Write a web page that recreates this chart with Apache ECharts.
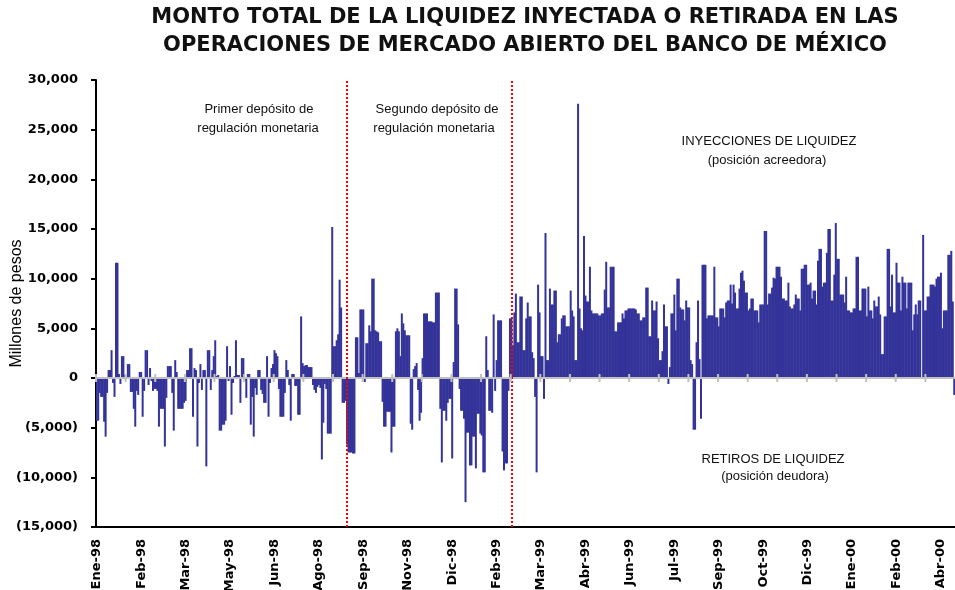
<!DOCTYPE html>
<html>
<head>
<meta charset="utf-8">
<script src="https://cdn.jsdelivr.net/npm/echarts@6/dist/echarts.min.js"></script>
<style>
  html, body { margin: 0; padding: 0; background: #fff; }
  #grafica { width: 955px; height: 590px; }
</style>
</head>
<body>
<div id="grafica"></div>
<script>
// etiquetas del eje horizontal (una cada 30 dias habiles)
var meses = ['Ene-98', 'Feb-98', 'Mar-98', 'May-98', 'Jun-98', 'Ago-98', 'Sep-98', 'Nov-98', 'Dic-98', 'Feb-99',
             'Mar-99', 'Abr-99', 'Jun-99', 'Jul-99', 'Sep-99', 'Oct-99', 'Dic-99', 'Ene-00', 'Feb-00', 'Abr-00'];
var pasoEtiqueta = 30;
var pasoMarca = 20;

// millones de pesos, un valor por dia habil
var primerDeposito = [
  -4300,-4300,-1500,-1900,-1900,-4400,-5900,-1500,800,800,2800,-500,-1900,11600,11600,400,-600,2200,2200,300,
  100,1400,1400,-1400,-1400,-3100,-4900,-1300,-1700,600,600,-3900,-1300,2800,2800,-700,1000,-300,-1300,-1100,
  -1100,-1300,-4900,-3100,-3100,-3100,-6900,-2000,1200,1200,1200,-1500,-5300,1800,600,-3100,-3100,-3100,-3100,-2500,
  -2300,800,800,3000,3000,-3900,1000,800,-6900,-500,1400,-1200,800,800,-8900,2800,2800,-1200,800,2200,
  3800,200,300,-5300,-5300,-4700,-4700,-4300,3200,-300,1200,-3700,-500,200,3800,300,300,-2500,2000,2000,
  -300,-2000,400,400,-4700,-1900,-5900,-1000,-1700,800,800,-1200,-1600,-2500,-2500,2200,-3900,-500,1000,1400,
  2800,2500,2200,-1100,-3900,-3900,-3900,-1500,1800,800,-700,-4300,400,400,-800,-800,-3700,-3700,6200,1500,
  1200,1300,1300,1100,1100,1100,-700,-1200,-1500,-900,-700,-1000,-8200,-4500,-600,-1100,-5600,-5600,-5600,15200,
  3200,3200,3800,4400,9900,7100,-2500,-2500,-2300,-6700
];
var segundoDeposito = [
  -7500,-7500,-7500,-7600,-7600,4100,4100,500,6900,6900,
  6900,-400,3500,3500,5300,4700,10000,10000,4800,4700,4600,3700,3700,-2400,-4900,-4900,-3400,-3400,-3400,-7500,
  -4900,-4900,4700,5000,4700,2200,6500,5500,4800,4300,4300,4300,-4600,-5200,900,1200,1500,-1200,-4300,-3500,
  2000,6500,6500,6500,5700,5700,5700,5600,5600,8600,8600,8600,-3100,-8500,-3300,-3300,-4300,-2500,-2100,-2100,
  -8100,1600,9000,9000,5400,-1100,-3300,-3300,-4100,-12500,-5500,-5500,-8800,-8800,-5900,-5900,-9100,-3600,-3600,-5600,
  -5800,-9500,-9500,4200,800,-3300,-3300,-3500,6400,-1300,1800,5800,5800,5800,-7400,-9300,-8600,-8600,-1300,6000,
  6000
];
var despues = [
  3300,6600,8500,3600,3600,8200,8200,2800,2800,6000,7600,6200,6200,2600,2000,-1900,-9500,9400,6600,
  2200,2200,-2100,14600,1800,1800,9000,7400,7400,8800,8800,3600,4400,4400,6000,6300,6300,5200,5200,5200,
  8800,6800,6200,1800,1800,27600,7000,5000,4800,14300,8300,7700,7700,11200,6800,6500,6500,6500,6500,6300,
  6300,6500,6500,8900,11700,7100,7100,11200,11200,11200,4700,4700,5600,5600,5600,6500,6000,6800,6800,7000,
  7000,7000,7000,7000,6900,6500,6500,5800,5800,6100,6100,9100,9100,4200,4200,7800,6800,6800,7700,4000,
  1800,1800,2700,7400,5200,5200,-600,1100,6500,6500,8400,4800,10000,10000,7100,6900,6900,5800,7800,7100,
  7100,1800,1400,-5200,-5200,3600,7800,1900,-4100,11400,11400,11400,6000,6300,6300,6300,6300,11200,6100,6100,
  5200,7000,7000,7000,6100,7600,7800,7800,9400,7500,9400,8600,7000,7000,9000,10600,10800,9800,8600,8600,
  6800,7000,8000,8000,6800,6800,6800,5600,7400,7400,7400,14800,14800,7400,8500,8500,9100,10100,10000,11200,
  11200,11200,10200,8000,8000,7800,7800,9600,7200,7000,7000,7400,8400,8000,8000,6800,11000,11000,11400,11400,
  9400,9400,9600,8000,8800,8800,7400,11800,13000,13000,9200,9600,9600,12600,15000,15000,7800,7800,10400,15600,
  12000,12000,8400,8400,8400,7600,10200,6800,6800,6600,6600,7000,7000,12200,12200,6800,6800,9000,9000,9000,
  6200,9200,6800,6800,6000,7800,7200,7200,8200,6400,2400,2400,6200,6200,13000,13000,7200,10400,6600,6600,
  11600,9600,9600,6800,10200,9600,9600,7000,9600,9600,9600,4800,6400,7400,6400,7800,7800,0,14400,6800,
  6800,8200,8200,9400,9400,9400,9200,10000,10200,10200,10600,5000,6800,6800,6800,12400,12400,12800,7700,-1700
];

var valores = primerDeposito.concat(segundoDeposito, despues);
var dias = valores.map(function (v, i) { return String(i); });
var finPrimero = primerDeposito.length - 1;
var finSegundo = primerDeposito.length + segundoDeposito.length - 1;

// marcas grises sobre la linea del cero
var marcas = [];
for (var k = 0; k < valores.length; k += pasoMarca) marcas.push([k, 0]);

function miles(n) {
    return String(n).replace(/\B(?=(\d{3})+(?!\d))/g, ',');
}

var texto = function (t, x, y, font) {
    return {
        type: 'text', x: x, y: y, silent: true,
        style: { text: t, font: font, fill: '#111', textAlign: 'center', textVerticalAlign: 'middle' }
    };
};
var fuenteNota = '13px "Liberation Sans"';
var fuenteTitulo = 'bold 21px "DejaVu Sans"';

var grafica = echarts.init(document.getElementById('grafica'));

grafica.setOption({
    animation: false,
    grid: { left: 96, right: 0, top: 80, bottom: 63, containLabel: false, outerBoundsMode: 'none' },
    graphic: [
        texto('MONTO TOTAL DE LA LIQUIDEZ INYECTADA O RETIRADA EN LAS', 525, 18, fuenteTitulo),
        texto('OPERACIONES DE MERCADO ABIERTO DEL BANCO DE MÉXICO', 525, 46, fuenteTitulo),
        texto('Primer depósito de', 259, 109, fuenteNota),
        texto('regulación monetaria', 258, 128, fuenteNota),
        texto('Segundo depósito de', 437, 109, fuenteNota),
        texto('regulación monetaria', 434, 128, fuenteNota),
        texto('INYECCIONES DE LIQUIDEZ', 769, 141, fuenteNota),
        texto('(posición acreedora)', 767, 160, fuenteNota),
        texto('RETIROS DE LIQUIDEZ', 773, 459, fuenteNota),
        texto('(posición deudora)', 775, 476, fuenteNota)
    ],
    xAxis: {
        type: 'category',
        data: dias,
        position: 'bottom',
        axisLine: { onZero: false, lineStyle: { color: '#000', width: 2 } },
        axisTick: { show: false },
        axisLabel: {
            interval: pasoEtiqueta - 1,
            rotate: 90,
            margin: 12,
            fontFamily: 'DejaVu Sans',
            fontWeight: 'bold',
            fontSize: 13,
            color: '#000',
            formatter: function (v, i) { return meses[i / pasoEtiqueta] || ''; }
        },
        splitLine: { show: false }
    },
    yAxis: {
        type: 'value',
        min: -15000,
        max: 30000,
        interval: 5000,
        name: 'Millones de pesos',
        nameLocation: 'middle',
        nameGap: 71,
        nameMoveOverlap: false,
        nameTextStyle: { fontFamily: 'Liberation Sans', fontSize: 16, color: '#000' },
        axisLine: { show: true, onZero: false, lineStyle: { color: '#000', width: 2 } },
        axisTick: { show: true, length: 5, lineStyle: { color: '#000', width: 2 } },
        splitLine: { show: false },
        axisLabel: {
            margin: 18,
            fontFamily: 'DejaVu Sans',
            fontWeight: 'bold',
            fontSize: 13,
            color: '#000',
            formatter: function (v) { return v < 0 ? '(' + miles(-v) + ')' : miles(v); }
        }
    },
    series: [{
        name: 'Liquidez',
        type: 'bar',
        data: valores,
        barWidth: 2,
        itemStyle: { color: '#333399' },
        markLine: {
            silent: true,
            symbol: 'none',
            z: 6,
            label: { show: false },
            data: [
                { yAxis: 0, lineStyle: { color: '#C0C0C0', type: 'solid', width: 2 } },
                { xAxis: finPrimero, lineStyle: { color: '#FF0000', type: [2, 2], width: 2 } },
                { xAxis: finSegundo, lineStyle: { color: '#FF0000', type: [2, 2], width: 2 } }
            ]
        }
    }, {
        name: 'marcas',
        type: 'custom',
        data: marcas,
        silent: true,
        z: 7,
        renderItem: function (params, api) {
            var c = api.coord([api.value(0), 0]);
            var x = c[0] - api.size([1, 0])[0] / 2;
            return {
                type: 'line',
                shape: { x1: x, y1: c[1] - 4, x2: x, y2: c[1] + 4 },
                style: { stroke: '#C0C0C0', lineWidth: 2 }
            };
        }
    }]
});
</script>
</body>
</html>
